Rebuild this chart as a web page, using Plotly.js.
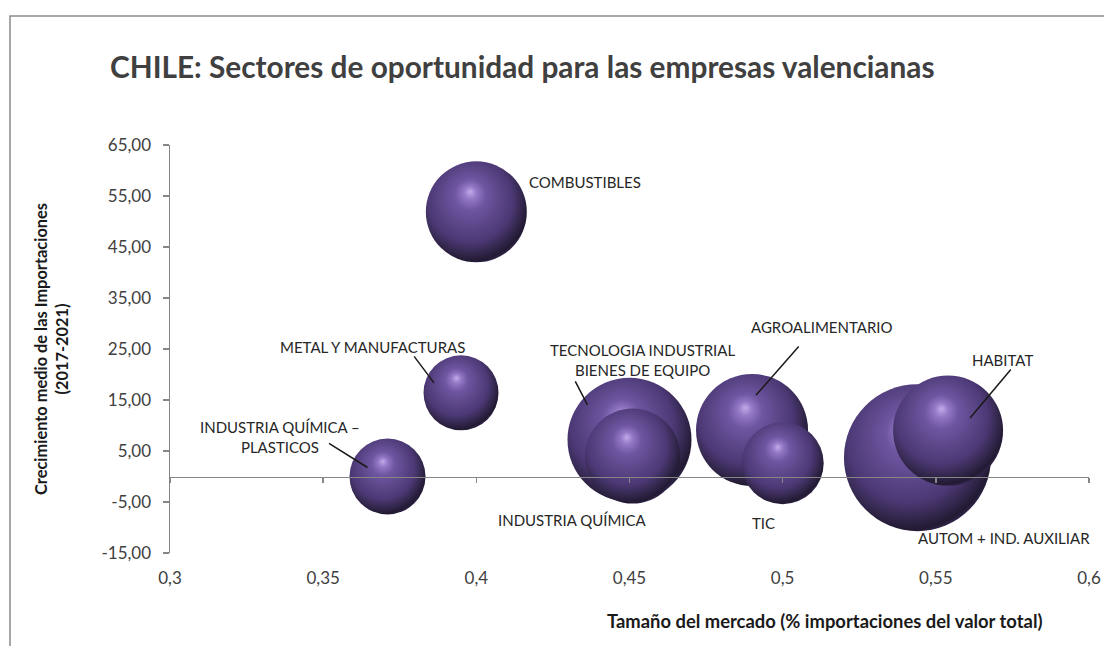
<!DOCTYPE html>
<html>
<head>
<meta charset="utf-8">
<script src="https://cdn.plot.ly/plotly-3.0.1.min.js"></script>
<style>
  html, body { margin: 0; padding: 0; background: #ffffff; }
  #chart { width: 1104px; height: 646px; }
</style>
</head>
<body>
<div id="chart"></div>
<script>
// ---- Data ----
// Drawing order: later bubbles are drawn on top
const sectores = ['AUTOM + IND. AUXILIAR', 'TECNOLOGIA INDUSTRIAL<br>BIENES DE EQUIPO', 'AGROALIMENTARIO',
                  'HABITAT', 'INDUSTRIA QUÍMICA', 'TIC', 'COMBUSTIBLES',
                  'METAL Y MANUFACTURAS', 'INDUSTRIA QUÍMICA –<br>PLASTICOS'];
const tamanoMercado = [0.544, 0.450, 0.490, 0.554, 0.451, 0.500, 0.400, 0.395, 0.371];
const crecimiento   = [3.7, 7.2, 9.1, 9.0, 4.0, 2.6, 51.9, 16.4, 0.0];
const tamanoBurbuja = [147, 124, 112, 110, 95, 82, 101, 75, 76];

const xTickVals = [0.3, 0.35, 0.4, 0.45, 0.5, 0.55, 0.6];
const xTickText = ['0,3', '0,35', '0,4', '0,45', '0,5', '0,55', '0,6'];
const yTickVals = [-15, -5, 5, 15, 25, 35, 45, 55, 65];
const yTickText = ['-15,00', '-5,00', '5,00', '15,00', '25,00', '35,00', '45,00', '55,00', '65,00'];

// ---- Label placement (pixel offsets from each bubble centre) ----
const labelShift = [[87, -80.5], [12.5, 80], [70, 103], [54.5, 70.5], [-60, -63.5],
                    [-19, -60], [108.5, 30], [-89, 46], [-108, 40]];
// leader lines: [index, headShiftX, headShiftY, tailAx, tailAy]
const leaders = [[1, -42, 35, -13, -25], [2, 4, 35, 44, -50], [3, 22, 12.5, 42, -50],
                 [7, -27, 10, -21, -28], [8, -20, 9, -40, -25]];

const FONT = 'Lato, "Open Sans", "DejaVu Sans", sans-serif';
const GRAY = '#868686';

const annotations = [];
sectores.forEach((s, i) => {
  annotations.push({
    x: tamanoMercado[i], y: crecimiento[i], xref: 'x', yref: 'y',
    text: s, showarrow: false, align: 'center',
    xshift: labelShift[i][0], yshift: labelShift[i][1],
    font: {family: FONT, size: 15, color: '#262626'}
  });
});
leaders.forEach(([i, hx, hy, ax, ay]) => {
  annotations.push({
    x: tamanoMercado[i], y: crecimiento[i], xref: 'x', yref: 'y',
    text: '', showarrow: true, arrowhead: 0, arrowwidth: 1.5, arrowcolor: '#1a1a1a',
    ax: ax, ay: ay, standoff: 0, xshift: hx, yshift: hy,
    font: {size: 1}
  });
});
annotations.push({
  xref: 'paper', yref: 'paper', x: (1045 - 170) / 919, y: (553 - 621) / 408,
  xanchor: 'right', yanchor: 'middle', showarrow: false,
  text: 'Tamaño del mercado (% importaciones del valor total)',
  font: {family: FONT, size: 18.4, color: '#1a1a1a', weight: 'bold'}
});

const traces = [
  {
    type: 'scatter', mode: 'markers',
    x: tamanoMercado, y: crecimiento, text: sectores,
    hoverinfo: 'text+x+y',
    marker: {
      size: tamanoBurbuja, sizemode: 'diameter', sizeref: 1, opacity: 1,
      color: '#2a1e40', line: {width: 0},
      gradient: {type: 'radial', color: '#a58ad0'}
    }
  },
  { type: 'scatter', mode: 'markers', x: [], y: [], xaxis: 'x2', yaxis: 'y', hoverinfo: 'skip', showlegend: false }
];

const layout = {
  width: 1104, height: 646,
  margin: {l: 170, r: 15, t: 145, b: 93, pad: 0},
  paper_bgcolor: '#ffffff', plot_bgcolor: '#ffffff',
  showlegend: false,
  separators: ',.',
  title: {
    text: 'CHILE: Sectores de oportunidad para las empresas valencianas',
    x: 110 / 1104, xanchor: 'left', xref: 'container',
    y: 1 - 68 / 646, yanchor: 'middle', yref: 'container',
    font: {family: FONT, size: 29.8, color: '#404040', weight: 'bold'}
  },
  xaxis: {
    range: [0.3, 0.6], tickvals: xTickVals, ticktext: xTickText,
    showline: false, showgrid: false, zeroline: false,
    ticks: 'outside', ticklen: 10, tickcolor: 'rgba(0,0,0,0)',
    tickfont: {family: FONT, size: 17, color: '#404040'}
  },
  xaxis2: {
    overlaying: 'x', anchor: 'free', position: 15 / 80,
    range: [0.3, 0.6], tickvals: xTickVals, showticklabels: false,
    showline: true, linecolor: GRAY, linewidth: 1.5,
    ticks: 'outside', ticklen: 5, tickcolor: GRAY, tickwidth: 1.5,
    showgrid: false, zeroline: false
  },
  yaxis: {
    range: [-15, 65], tickvals: yTickVals, ticktext: yTickText,
    showline: true, linecolor: GRAY, linewidth: 1.5,
    ticks: 'outside', ticklen: 6, tickcolor: GRAY, tickwidth: 1.5,
    ticklabelstandoff: 8,
    showgrid: false, zeroline: false,
    tickfont: {family: FONT, size: 17, color: '#404040'},
    title: {
      text: 'Crecimiento medio de las Importaciones<br>(2017-2021)',
      font: {family: FONT, size: 16.4, color: '#1a1a1a', weight: 'bold'},
      standoff: 28
    }
  },
  annotations: annotations,
  shapes: [{
    type: 'rect', xref: 'paper', yref: 'paper',
    x0: (10 - 170) / 919, x1: 1.05, y0: -0.3, y1: (553 - 16) / 408,
    line: {color: '#8a8a8a', width: 1.5}, fillcolor: 'rgba(0,0,0,0)', layer: 'below'
  }]
};

Plotly.newPlot('chart', traces, layout, {displayModeBar: false, staticPlot: true}).then(gd => {
  // give the bubbles a sphere-like shading (highlight upper left, dark lower-right rim)
  const stops = [[0, '#c3abea'], [0.1, '#9479c6'], [0.25, '#6e56a1'], [0.48, '#5b4688'],
                 [0.68, '#4b3874'], [0.82, '#35284f'], [0.93, '#221a33'], [1, '#3c2e5c']];
  gd.querySelectorAll('radialGradient').forEach(g => {
    g.setAttribute('cx', '0.44'); g.setAttribute('cy', '0.42'); g.setAttribute('r', '0.62');
    g.setAttribute('fx', '0.44'); g.setAttribute('fy', '0.3');
    while (g.firstChild) g.removeChild(g.firstChild);
    stops.forEach(([o, c]) => {
      const st = document.createElementNS('http://www.w3.org/2000/svg', 'stop');
      st.setAttribute('offset', o);
      st.setAttribute('stop-color', c);
      g.appendChild(st);
    });
  });
});
</script>
</body>
</html>
